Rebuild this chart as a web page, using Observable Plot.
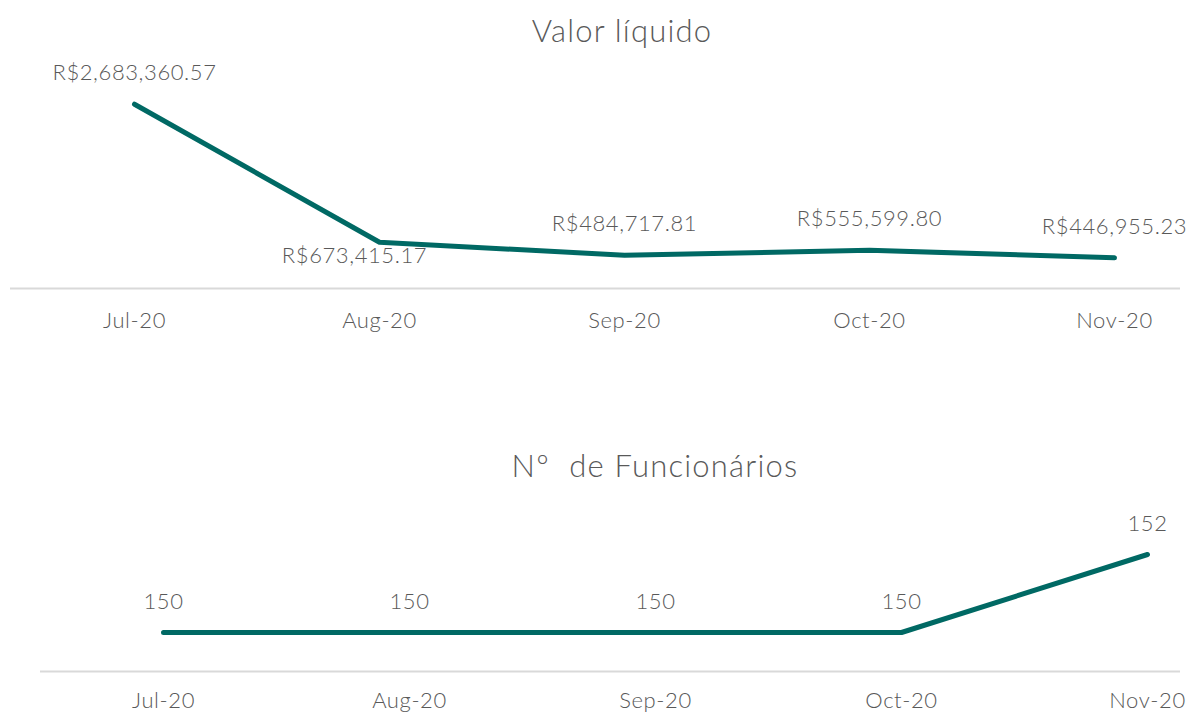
<!DOCTYPE html>
<html>
<head>
<meta charset="utf-8">
<script src="https://cdn.jsdelivr.net/npm/d3@7"></script>
<script src="https://cdn.jsdelivr.net/npm/@observablehq/plot@0.6"></script>
<style>
  html, body { margin: 0; padding: 0; background: #fff; width: 1192px; height: 715px; overflow: hidden; }
  body { position: relative; font-family: Lato, "Noto Sans", sans-serif; }
  .title { position: absolute; left: 0; width: 1192px; text-align: center; color: #595959; font-size: 31px; font-weight: 300; letter-spacing: 1.2px; line-height: 60px; height: 60px; box-sizing: border-box; }
  .chart { position: absolute; left: 0; }
  svg { overflow: visible; }
</style>
</head>
<body>
<div class="title" id="t1" style="top:0px;padding-left:52px;">Valor líquido</div>
<div class="chart" id="c1" style="top:60px"></div>
<div class="title" id="t2" style="top:435px;padding-left:118px;">Nº&nbsp; de Funcionários</div>
<div class="chart" id="c2" style="top:490px"></div>
<script>
const months = ["Jul-20", "Aug-20", "Sep-20", "Oct-20", "Nov-20"];
const valorLiquido = [2683360.57, 673415.17, 484717.81, 555599.80, 446955.23];
const funcionarios = [150, 150, 150, 150, 152];

const teal = "#006964";
const textColor = "#595959";
const font = "Lato, 'Noto Sans', sans-serif";

const d1 = months.map((m, i) => ({month: m, value: valorLiquido[i]}));
const d2 = months.map((m, i) => ({month: m, value: funcionarios[i]}));
const fmt = v => "R$" + d3.format(",.2f")(v);

const common = {fontFamily: font, fontSize: "22px", fontWeight: 300, letterSpacing: "0.6px", color: textColor, background: "transparent"};

const p1 = Plot.plot({
  width: 1192,
  height: 290,
  marginLeft: 10,
  marginRight: 12,
  marginTop: 0,
  marginBottom: 62,
  style: common,
  x: {type: "point", domain: months, range: [133, 1115], padding: 0},
  y: {domain: [0, 3000000], range: [228, 22], axis: null},
  marks: [
    Plot.ruleY([0], {stroke: "#d9d9d9", strokeWidth: 2}),
    Plot.axisX({tickSize: 0, tickPadding: 24, fontSize: 22, fill: textColor, label: null}),
    Plot.lineY(d1, {x: "month", y: "value", stroke: teal, strokeWidth: 5, strokeLinecap: "round", strokeLinejoin: "round"}),
    Plot.text(d1.filter(d => d.month !== "Aug-20"), {x: "month", y: "value", text: d => fmt(d.value), dy: -31, fill: textColor, fontSize: 22}),
    Plot.text(d1.filter(d => d.month === "Aug-20"), {x: "month", y: "value", text: d => fmt(d.value), dy: 14, dx: -25, fill: textColor, fontSize: 22})
  ]
});
document.getElementById("c1").appendChild(p1);

const p2 = Plot.plot({
  width: 1192,
  height: 225,
  marginLeft: 40,
  marginRight: 12,
  marginTop: 0,
  marginBottom: 44,
  style: common,
  x: {type: "point", domain: months, range: [163, 1147], padding: 0},
  y: {domain: [149, 153], range: [181, 25], axis: null},
  marks: [
    Plot.ruleY([149], {stroke: "#d9d9d9", strokeWidth: 2}),
    Plot.axisX({tickSize: 0, tickPadding: 21, fontSize: 22, fill: textColor, label: null}),
    Plot.lineY(d2, {x: "month", y: "value", stroke: teal, strokeWidth: 5, strokeLinecap: "round", strokeLinejoin: "round"}),
    Plot.text(d2, {x: "month", y: "value", text: d => String(d.value), dy: -31, fill: textColor, fontSize: 22})
  ]
});
document.getElementById("c2").appendChild(p2);
</script>
</body>
</html>
